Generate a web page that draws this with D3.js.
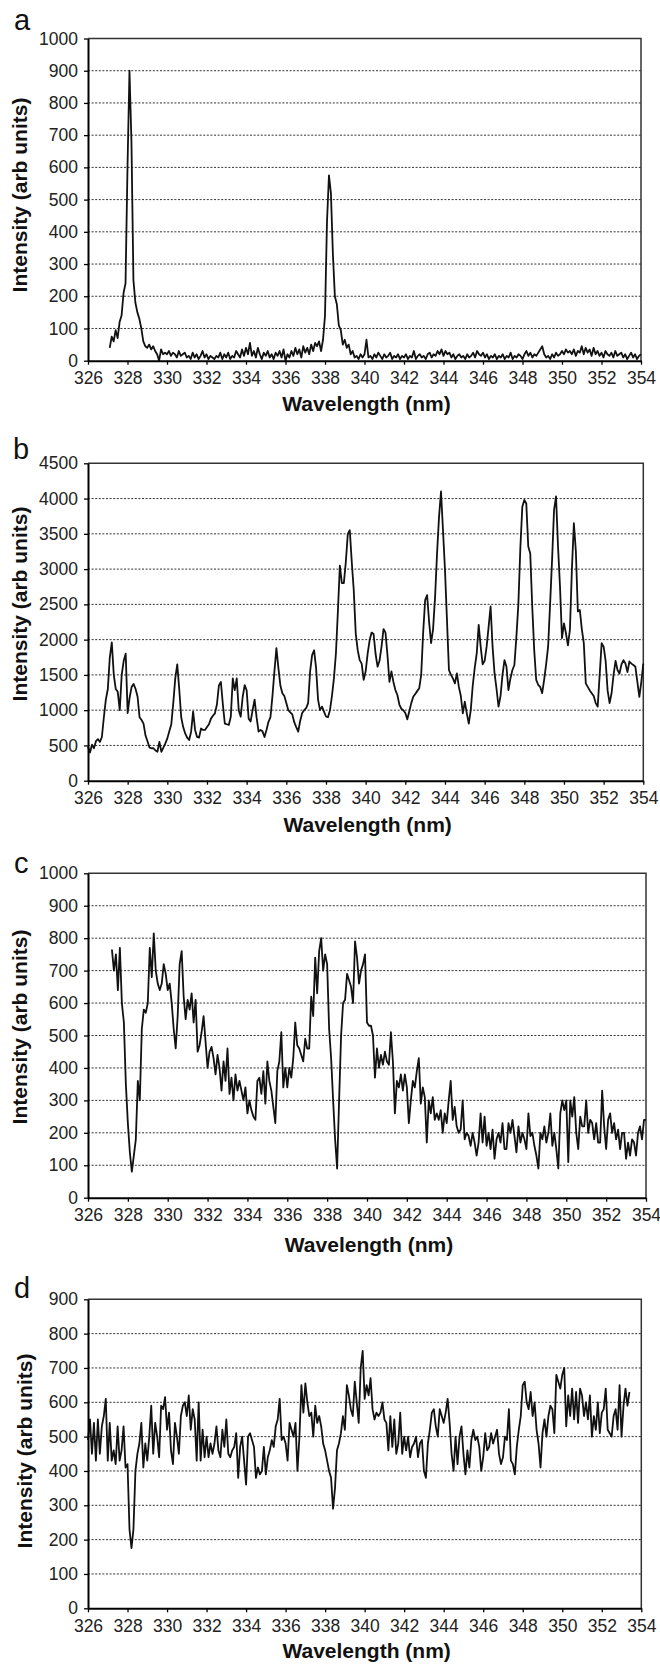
<!DOCTYPE html>
<html>
<head>
<meta charset="utf-8">
<script src="https://cdn.jsdelivr.net/npm/d3@7"></script>
<style>
  body { margin: 0; background: #fff; }
  svg { display: block; }
</style>
</head>
<body>
<svg id="chart" width="660" height="1665"></svg>
<script>
// ---------------- DATA ----------------
const xTicks = [326, 328, 330, 332, 334, 336, 338, 340, 342, 344, 346, 348, 350, 352, 354];
const yTicksA = [0, 100, 200, 300, 400, 500, 600, 700, 800, 900, 1000];
const yTicksB = [0, 500, 1000, 1500, 2000, 2500, 3000, 3500, 4000, 4500];
const yTicksC = [0, 100, 200, 300, 400, 500, 600, 700, 800, 900, 1000];
const yTicksD = [0, 100, 200, 300, 400, 500, 600, 700, 800, 900];
const panelLabels = ["a", "b", "c", "d"];
const xTitle = "Wavelength (nm)";
const yTitle = "Intensity (arb units)";

// wavelength sampling (nm): first sample of each spectrum, 0.1 nm apart
const stepNm = 0.1;
const startA = 327.1, startB = 326.0, startC = 327.2, startD = 326.0;

const intensityA = [
  40,75,60,95,70,120,140,210,240,
  600,900,680,250,180,150,130,100,60,45,
  40,50,35,45,30,20,0,35,20,25,
  20,30,15,25,20,10,30,15,20,25,
  10,15,5,25,10,20,5,15,30,10,
  20,5,15,10,5,15,10,25,5,20,
  10,25,5,15,10,30,20,10,35,15,
  40,20,55,15,30,10,40,20,5,25,
  15,30,10,20,5,25,15,30,10,35,
  0,20,10,30,15,40,20,35,10,45,
  25,40,20,50,30,55,45,60,30,65,
  140,430,575,520,330,200,175,110,95,50,
  65,40,50,20,30,10,15,5,20,10,
  20,65,10,15,5,20,10,25,15,5,
  20,10,15,25,5,15,10,20,5,15,
  10,20,5,15,10,30,5,15,20,10,
  15,5,20,25,10,20,15,30,20,35,
  15,30,20,25,10,20,5,15,20,10,
  15,5,20,10,15,25,10,30,20,15,
  25,10,20,5,15,10,20,5,15,10,
  20,5,15,10,25,5,15,10,20,15,
  5,20,30,15,25,10,20,15,25,35,
  45,20,10,15,5,20,10,25,15,20,
  30,20,35,25,30,20,35,15,30,25,
  45,20,40,25,35,15,40,20,30,15,
  25,10,30,20,15,25,10,30,15,20,
  25,10,20,5,15,25,10,20,5,15,
  20
];

const intensityB = [
  480,400,510,460,560,590,550,620,900,1150,
  1300,1750,1960,1500,1300,1260,1000,1500,1700,1800,
  960,1180,1330,1370,1300,1190,900,860,810,640,
  560,470,460,460,430,410,550,410,470,530,
  600,700,800,1100,1450,1650,1300,900,760,670,
  610,577,695,980,720,620,610,740,720,720,
  760,800,880,920,955,1080,1350,1400,1080,810,
  800,790,907,1450,1285,1450,1000,907,1190,1356,
  1280,880,840,1000,1150,900,695,720,700,620,
  720,835,900,1200,1550,1880,1600,1350,1240,1200,
  1100,1000,970,940,830,760,695,850,960,1000,
  1030,1100,1550,1780,1850,1600,1150,1000,1050,980,
  910,900,1000,1200,1450,1800,2400,3050,2800,2800,
  3100,3500,3550,3100,2700,2090,1850,1710,1660,1430,
  1550,1800,1990,2100,2080,1800,1616,1700,1900,2150,
  2100,1780,1400,1550,1400,1285,1215,1080,1020,1000,
  960,870,980,1100,1190,1230,1270,1310,1500,2100,
  2560,2630,2250,1950,2150,2600,3220,3740,4100,3550,
  2990,2280,1570,1500,1450,1380,1520,1330,1200,955,
  1120,955,810,1000,1350,1600,1800,2210,1900,1650,
  1700,1900,2180,2470,1900,1520,1300,1050,1200,1500,
  1710,1616,1285,1450,1570,1640,2040,2500,3300,3885,
  3980,3930,3320,3220,2470,1850,1430,1360,1330,1240,
  1430,1650,1900,2500,3130,3840,4030,3320,2750,2020,
  2230,2090,1920,2140,3000,3650,3250,2400,2420,2150,
  1950,1380,1330,1280,1240,1200,1100,1050,1500,1950,
  1900,1700,1280,1100,1240,1500,1700,1570,1520,1650,
  1710,1660,1540,1690,1660,1640,1616,1400,1190,1400,
  1660
];

const intensityC = [
  765,700,750,640,770,600,540,350,
  230,140,80,130,180,360,300,520,580,570,
  600,770,680,815,700,660,640,660,720,690,
  640,660,600,520,460,560,720,760,620,550,
  610,580,630,540,610,450,470,510,560,480,
  400,450,465,430,380,440,400,330,420,360,
  460,320,370,300,380,330,360,330,300,340,
  260,300,270,250,240,360,370,320,390,290,
  420,360,330,280,230,390,420,510,340,400,
  340,400,370,430,540,470,460,440,420,490,
  460,460,620,560,740,630,760,800,700,750,
  720,520,430,300,180,90,300,500,600,610,
  690,670,650,600,790,740,660,700,720,750,
  540,530,530,500,370,460,400,440,410,450,
  420,410,510,420,260,360,340,380,330,380,
  340,230,300,360,340,390,430,290,340,310,
  170,300,260,310,240,260,240,270,200,260,
  230,300,360,240,280,220,200,210,300,180,
  200,190,160,200,170,130,170,260,170,250,
  160,200,150,210,120,180,200,170,230,150,
  150,230,200,240,190,140,220,170,200,180,
  150,260,190,200,160,130,90,200,180,220,
  170,200,260,160,200,150,90,260,300,270,
  300,110,300,250,310,200,150,250,220,220,
  300,200,240,230,180,230,170,170,330,220,
  150,240,260,200,230,180,210,150,200,200,
  120,170,130,180,170,130,200,220,180,240,
  240
];

const intensityD = [
  490,550,450,540,430,550,450,530,560,610,
  430,540,430,460,420,530,430,460,530,410,
  420,230,175,230,400,450,480,540,410,480,
  430,500,590,450,540,500,440,590,580,615,
  520,570,460,420,540,500,450,560,590,600,
  560,620,520,580,550,430,600,430,520,440,
  500,440,480,450,480,530,460,440,520,470,
  550,450,440,460,470,510,380,470,500,430,
  360,500,510,490,470,380,410,390,400,470,
  390,440,460,490,470,530,550,610,490,500,
  480,430,540,520,500,540,400,500,650,570,
  655,600,560,570,500,590,540,560,530,480,
  460,430,400,380,290,350,460,480,510,560,
  520,650,620,580,560,660,600,540,700,750,
  610,650,620,670,580,550,570,560,570,600,
  550,540,460,560,470,550,450,480,570,450,
  500,460,500,440,470,480,500,440,480,490,
  400,380,480,520,570,580,530,500,580,560,
  540,570,610,540,450,400,500,420,500,530,
  450,390,460,410,490,520,490,500,470,400,
  440,510,460,470,510,480,500,520,450,420,
  440,500,490,580,430,420,390,470,520,560,
  650,660,600,580,630,560,600,520,480,410,
  510,550,500,560,590,580,510,680,660,640,
  680,700,530,620,560,640,550,630,540,640,
  620,560,600,550,620,500,560,520,600,510,
  570,580,640,520,510,500,560,580,520,650,
  500,590,640,590,630
];

// ---------------- LAYOUT ----------------
const series = [
  { values: intensityA, start: startA, yTicks: yTicksA },
  { values: intensityB, start: startB, yTicks: yTicksB },
  { values: intensityC, start: startC, yTicks: yTicksC },
  { values: intensityD, start: startD, yTicks: yTicksD }
];
const layout = [
  { left: 88, right: 641,   top: 38.5,   bottom: 360.7,  letterX: 14, letterY: 29.5,   yTitleX: 27,   yTitleY: 195,  xTitleY: 410.5 },
  { left: 88, right: 643.3, top: 463.3,  bottom: 780.7,  letterX: 13, letterY: 459.3,  yTitleX: 27,   yTitleY: 604,  xTitleY: 832 },
  { left: 88, right: 646,   top: 873.3,  bottom: 1197.7, letterX: 14, letterY: 873.3,  yTitleX: 27,   yTitleY: 1027, xTitleY: 1252 },
  { left: 88, right: 641.3, top: 1299.3, bottom: 1608.3, letterX: 14, letterY: 1298.3, yTitleX: 31.7, yTitleY: 1451, xTitleY: 1658 }
];

const FONT = "'Liberation Sans', Arial, Helvetica, sans-serif";
const svg = d3.select("#chart");

series.forEach((s, k) => {
  const L = layout[k];
  const yMax = d3.max(s.yTicks);
  const x = d3.scaleLinear().domain([d3.min(xTicks), d3.max(xTicks)]).range([L.left, L.right]);
  const y = d3.scaleLinear().domain([0, yMax]).range([L.bottom, L.top]);
  const g = svg.append("g");

  // dotted gridlines
  g.selectAll("line.grid")
    .data(s.yTicks.filter(v => v > 0 && v < yMax))
    .join("line")
    .attr("class", "grid")
    .attr("x1", L.left).attr("x2", L.right)
    .attr("y1", d => y(d)).attr("y2", d => y(d))
    .attr("stroke", "#333").attr("stroke-width", 1)
    .attr("stroke-dasharray", "2,1.6");

  // top and right frame
  g.append("path")
    .attr("d", `M${L.left},${y(yMax)}H${x(354)}V${L.bottom}`)
    .attr("fill", "none").attr("stroke", "#333").attr("stroke-width", 1.5);

  // spectrum
  const line = d3.line()
    .x((d, i) => x(s.start + i * stepNm))
    .y(d => y(d));
  g.append("path")
    .datum(s.values)
    .attr("d", line)
    .attr("fill", "none")
    .attr("stroke", "#111")
    .attr("stroke-width", 1.8)
    .attr("stroke-linejoin", "round");

  // x axis
  const gx = g.append("g")
    .attr("transform", `translate(0,${L.bottom})`)
    .call(d3.axisBottom(x).tickValues(xTicks).tickSize(4).tickSizeOuter(0).tickFormat(d3.format("d")));
  gx.select(".domain").attr("stroke", "#000").attr("stroke-width", 2);
  gx.selectAll(".tick line").attr("stroke", "#000").attr("stroke-width", 1.3);
  gx.selectAll(".tick text")
    .attr("y", 23.3).attr("dy", null)
    .attr("font-family", FONT).attr("font-size", 17.5).attr("fill", "#222");

  // y axis
  const gy = g.append("g")
    .attr("transform", `translate(${L.left},0)`)
    .call(d3.axisLeft(y).tickValues(s.yTicks).tickSize(4).tickSizeOuter(0).tickPadding(6).tickFormat(d3.format("d")));
  gy.select(".domain").attr("stroke", "#000").attr("stroke-width", 2);
  gy.selectAll(".tick line").attr("stroke", "#000").attr("stroke-width", 1.3);
  gy.selectAll(".tick text")
    .attr("font-family", FONT).attr("font-size", 17.5).attr("fill", "#222");

  // titles
  g.append("text")
    .attr("x", (L.left + L.right) / 2 + 2)
    .attr("y", L.xTitleY)
    .attr("text-anchor", "middle")
    .attr("font-family", FONT).attr("font-weight", "bold").attr("font-size", 21)
    .attr("fill", "#111")
    .text(xTitle);

  g.append("text")
    .attr("transform", `translate(${L.yTitleX},${L.yTitleY}) rotate(-90)`)
    .attr("text-anchor", "middle")
    .attr("font-family", FONT).attr("font-weight", "bold").attr("font-size", 21)
    .attr("fill", "#111")
    .text(yTitle);

  // panel letter
  g.append("text")
    .attr("x", L.letterX).attr("y", L.letterY)
    .attr("font-family", FONT).attr("font-size", 29)
    .attr("fill", "#111")
    .text(panelLabels[k]);
});
</script>
</body>
</html>
